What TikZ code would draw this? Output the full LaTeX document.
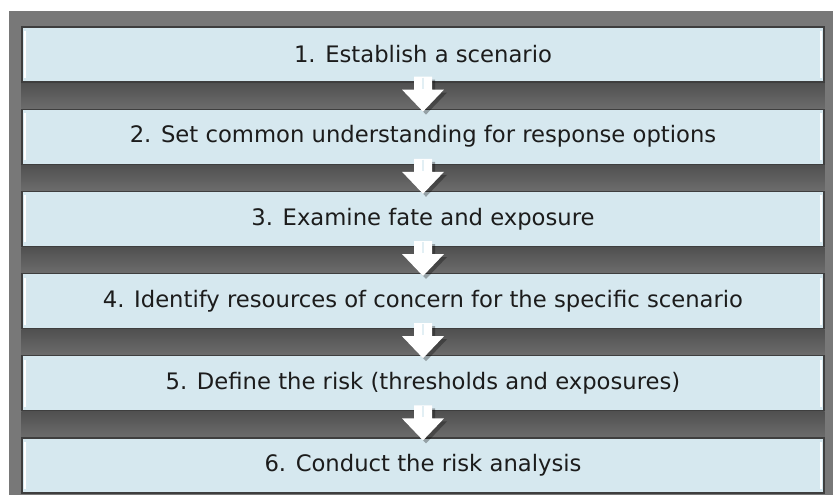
\documentclass[tikz,border=0pt]{standalone}
\usepackage{fontspec}
\setmainfont{DejaVu Sans}
\usetikzlibrary{arrows.meta,positioning,calc,backgrounds}

\definecolor{boxfill}{RGB}{214,232,239}
\definecolor{boxline}{RGB}{62,62,62}
\definecolor{panel}{RGB}{120,120,120}
\definecolor{gapdark}{RGB}{80,80,80}
\definecolor{textcol}{RGB}{28,28,28}

\begin{document}
\begin{tikzpicture}[
    x=1pt, y=1pt,
    >=Latex,
    node distance=26pt,
    stepbox/.style={draw=boxline, line width=1.2pt, fill=boxfill, minimum width=802pt, minimum height=55pt,
        inner sep=0pt, align=center, font=\fontsize{22.7}{26}\selectfont, text=textcol,
        path picture={
            \draw[white, line width=1.6pt] ([xshift=3pt,yshift=-4pt]path picture bounding box.north west) -- ([xshift=3pt,yshift=4pt]path picture bounding box.south west);
            \draw[white, line width=1.6pt] ([xshift=-3pt,yshift=-4pt]path picture bounding box.north east) -- ([xshift=-3pt,yshift=4pt]path picture bounding box.south east);
        }},
    gap/.style={top color=gapdark, bottom color=panel!90!black},
    blockdown/.pic={
        \fill[black, opacity=0.3] (-6,16) -- (12,16) -- (12,3) -- (24,3) -- (3,-19) -- (-18,3) -- (-6,3) -- cycle;
        \fill[white] (-9,19) -- (9,19) -- (9,6) -- (21,6) -- (0,-16) -- (-21,6) -- (-9,6) -- cycle;
        \draw[boxfill!70!white, line width=1.5pt] (0,18) -- (0,7);
    }
]

\useasboundingbox (0,0) rectangle (833,-495);

% Steps
\node[stepbox] (s1) at (423,-54.5) {1. Establish a scenario};
\node[stepbox, below=of s1] (s2) {2. Set common understanding for response options};
\node[stepbox, below=of s2] (s3) {3. Examine fate and exposure};
\node[stepbox, below=of s3] (s4) {4. Identify resources of concern for the specific scenario};
\node[stepbox, below=of s4] (s5) {5. Define the risk (thresholds and exposures)};
\node[stepbox, below=of s5] (s6) {6. Conduct the risk analysis};

% Panel and shadow bands behind the steps
\begin{pgfonlayer}{background}
\fill[panel] (9,-11) rectangle (833,-495);
\shade[gap] (s1.south west) rectangle (s2.north east);
\shade[gap] (s2.south west) rectangle (s3.north east);
\shade[gap] (s3.south west) rectangle (s4.north east);
\shade[gap] (s4.south west) rectangle (s5.north east);
\shade[gap] (s5.south west) rectangle (s6.north east);
\end{pgfonlayer}

% Arrows between the steps
\coordinate (g1) at ($(s1.south)!0.5!(s2.north)$);
\coordinate (g2) at ($(s2.south)!0.5!(s3.north)$);
\coordinate (g3) at ($(s3.south)!0.5!(s4.north)$);
\coordinate (g4) at ($(s4.south)!0.5!(s5.north)$);
\coordinate (g5) at ($(s5.south)!0.5!(s6.north)$);
\pic at (g1) {blockdown};
\pic at (g2) {blockdown};
\pic at (g3) {blockdown};
\pic at (g4) {blockdown};
\pic at (g5) {blockdown};

\end{tikzpicture}
\end{document}
